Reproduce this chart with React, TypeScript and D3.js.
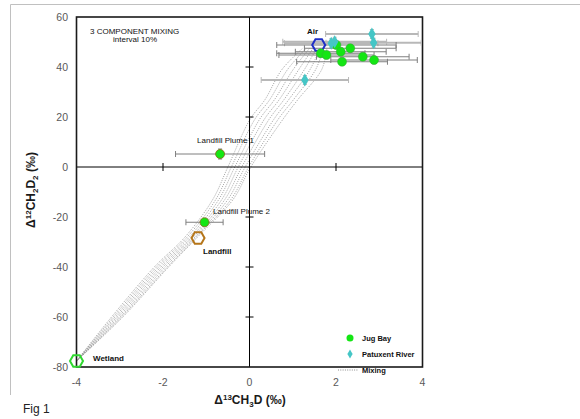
import React from 'react';
import * as d3 from 'd3';

// Jug Bay samples (green circles)
const jugBayX = [2.01, 2.11, 2.33, 1.65, 1.78, 2.14, 2.62, 2.88];
const jugBayY = [48.8, 46.1, 47.5, 45.5, 44.8, 42.1, 44.1, 42.8];
const jugBayXErr = [1.38, 1.05, 1.06, 1.02, 1.1, 1.05, 1.07, 1.0];
const jugBayYErr = [1.5, 1.5, 1.5, 1.5, 1.5, 1.5, 1.5, 1.5];

// Patuxent River samples (cyan diamonds)
const patuxentX = [2.83, 2.87, 1.89, 1.97, 1.28];
const patuxentY = [53.2, 49.7, 49.5, 50.1, 34.8];
const patuxentXErr = [1.07, 1.1, 1.08, 1.2, 1.01];
const patuxentYErr = [1.8, 1.8, 1.8, 1.8, 1.8];

// landfill plumes (green, labelled)
const plumeNames = ['Landfill Plume 1', 'Landfill Plume 2'];
const plumeX = [-0.68, -1.04];
const plumeY = [5.2, -22.1];
const plumeXErr = [1.03, 0.43];
const plumeYErr = [2, 1];

// end members (hexagons)
const endNames = ['Air', 'Landfill', 'Wetland'];
const endX = [1.6, -1.19, -4];
const endY = [48.8, -28.4, -77.6];
const endColors = ['#1f2fc8', '#b5761a', '#2fd82f'];

// mixing curves, x read at these y levels
const mixLevels = [-77.6, -60, -40, -28, -13, 0, 19, 27, 39, 47.5];
const mixCurves = [
  [-4, -3.19, -2.2, -1.49, -0.85, -0.5, 0.01, 0.36, 0.75, 1.23],
  [-4, -3.15, -2.15, -1.44, -0.78, -0.42, 0.12, 0.47, 0.88, 1.31],
  [-4, -3.11, -2.1, -1.39, -0.71, -0.34, 0.23, 0.58, 1.01, 1.39],
  [-4, -3.07, -2.05, -1.34, -0.64, -0.26, 0.34, 0.69, 1.14, 1.47],
  [-4, -3.03, -2.0, -1.3, -0.57, -0.18, 0.45, 0.8, 1.27, 1.55],
  [-4, -2.99, -1.95, -1.26, -0.5, -0.1, 0.56, 0.91, 1.4, 1.63],
  [-4, -2.96, -1.9, -1.23, -0.43, -0.02, 0.66, 1.02, 1.53, 1.71],
  [-4, -2.93, -1.87, -1.2, -0.38, 0.03, 0.77, 1.12, 1.67, 1.79],
];

const xTicks = [-4, -2, 0, 2, 4];
const yTicks = [60, 40, 20, 0, -20, -40, -60, -80];

const legendNames = ['Jug Bay', 'Patuxent River', 'Mixing'];

const font = '"Liberation Sans", Arial, sans-serif';

const hexagon = (cx: number, cy: number, r: number) => {
  const pts = d3.range(6).map((i) => {
    const a = (Math.PI / 3) * i;
    return [cx + r * Math.cos(a), cy + r * Math.sin(a)];
  });
  return 'M' + pts.map((p) => p.join(',')).join('L') + 'Z';
};

const diamond = d3.symbol().type(d3.symbolDiamond).size(48);

export default function App() {
  const x = d3.scaleLinear().domain([-4, 4]).range([76.5, 422.5]);
  const y = d3.scaleLinear().domain([-80, 60]).range([367, 17]);

  const line = d3
    .line<number>()
    .x((d) => x(d))
    .y((_, i) => y(mixLevels[i]))
    .curve(d3.curveCatmullRom);

  const errBar = (cx: number, cy: number, ex: number, ey: number, color: string, w: number, key: string) => {
    const x0 = Math.max(x(cx - ex), x(-4));
    const x1 = Math.min(x(cx + ex), x(4));
    return (
      <g key={key} stroke={color} strokeWidth={w}>
        <line x1={x0} x2={x1} y1={y(cy)} y2={y(cy)} />
        <line x1={x0} x2={x0} y1={y(cy) - 3} y2={y(cy) + 3} strokeWidth={1} />
        <line x1={x1} x2={x1} y1={y(cy) - 3} y2={y(cy) + 3} strokeWidth={1} />
        <line x1={x(cx)} x2={x(cx)} y1={y(cy + ey)} y2={y(cy - ey)} strokeWidth={1} />
        <line x1={x(cx) - 2} x2={x(cx) + 2} y1={y(cy + ey)} y2={y(cy + ey)} strokeWidth={1} />
        <line x1={x(cx) - 2} x2={x(cx) + 2} y1={y(cy - ey)} y2={y(cy - ey)} strokeWidth={1} />
      </g>
    );
  };

  return (
    <svg width={580} height={419} style={{ position: 'absolute', left: 0, top: 0, background: '#fff' }} fontFamily={font}>
      {/* outer frame */}
      <line x1={10.5} x2={580} y1={4.5} y2={4.5} stroke="#c0c0c0" />
      <line x1={10.5} x2={10.5} y1={4.5} y2={395} stroke="#c0c0c0" />

      {/* mixing */}
      <g fill="none" stroke="#8a8a8a" strokeWidth={0.8} strokeDasharray="1 1.3">
        {mixCurves.map((c, i) => (
          <path key={i} d={line(c) as string} />
        ))}
      </g>

      {/* zero axes */}
      <line x1={x(-4)} x2={x(4)} y1={y(0)} y2={y(0)} stroke="#000" strokeWidth={1} />
      <line x1={x(0)} x2={x(0)} y1={y(60)} y2={y(-80)} stroke="#000" strokeWidth={1} />
      {xTicks.filter((t) => t !== 0 && Math.abs(t) !== 4).map((t) => (
        <line key={t} x1={x(t)} x2={x(t)} y1={y(0) - 4} y2={y(0) + 4} stroke="#000" />
      ))}
      {yTicks.filter((t) => t !== 0 && t !== 60 && t !== -80).map((t) => (
        <line key={t} x1={x(0) - 4} x2={x(0) + 4} y1={y(t)} y2={y(t)} stroke="#000" />
      ))}

      {/* plot box */}
      <rect x={x(-4)} y={y(60)} width={x(4) - x(-4)} height={y(-80) - y(60)} fill="none" stroke="#1a1a1a" strokeWidth={1.6} />

      {/* tick labels */}
      <g fill="#595959" fontSize={10.5}>
        {yTicks.map((t) => (
          <text key={t} x={68} y={y(t) + 4} textAnchor="end">{t}</text>
        ))}
        {xTicks.map((t) => (
          <text key={t} x={x(t)} y={386} textAnchor="middle">{t}</text>
        ))}
      </g>

      {/* axis titles */}
      <text x={250} y={404} textAnchor="middle" fontWeight="bold" fontSize={12} fill="#1a1a1a">
        Δ<tspan fontSize={8} dy={-4}>13</tspan><tspan dy={4}>CH</tspan><tspan fontSize={8} dy={3}>3</tspan><tspan dy={-3}>D (‰)</tspan>
      </text>
      <text transform="translate(35,190) rotate(-90)" textAnchor="middle" fontWeight="bold" fontSize={12} fill="#1a1a1a">
        Δ<tspan fontSize={8} dy={-4}>12</tspan><tspan dy={4}>CH</tspan><tspan fontSize={8} dy={3}>2</tspan><tspan dy={-3}>D</tspan><tspan fontSize={8} dy={3}>2</tspan><tspan dy={-3}> (‰)</tspan>
      </text>

      {/* mixing title */}
      <text x={90} y={34} fontSize={8} fill="#111">3 COMPONENT MIXING</text>
      <text x={113} y={42} fontSize={8} fill="#111">interval 10%</text>

      {/* error bars */}
      {patuxentX.map((d, i) => errBar(d, patuxentY[i], patuxentXErr[i], patuxentYErr[i], '#b8b8b8', 1.8, 'p' + i))}
      {jugBayX.map((d, i) => errBar(d, jugBayY[i], jugBayXErr[i], jugBayYErr[i], '#7f7f7f', 1, 'j' + i))}
      {plumeX.map((d, i) => errBar(d, plumeY[i], plumeXErr[i], plumeYErr[i], '#7f7f7f', 1, 'l' + i))}

      {/* end members */}
      {endX.map((d, i) => (
        <path key={i} d={hexagon(x(d), y(endY[i]), 6.5)} fill="none" stroke={endColors[i]} strokeWidth={2} />
      ))}

      {/* points */}
      {jugBayX.map((d, i) => (
        <circle key={i} cx={x(d)} cy={y(jugBayY[i])} r={4.5} fill="#14e614" stroke="#3aa53a" strokeWidth={0.5} />
      ))}
      {plumeX.map((d, i) => (
        <circle key={i} cx={x(d)} cy={y(plumeY[i])} r={4.5} fill="#14e614" stroke="#8a6a1a" strokeWidth={0.8} />
      ))}
      {patuxentX.map((d, i) => (
        <path key={i} d={diamond() as string} transform={`translate(${x(d)},${y(patuxentY[i])})`} fill="#45c6c6" />
      ))}

      {/* labels */}
      <text x={x(plumeX[0]) - 23} y={y(plumeY[0]) - 11} fontSize={8} fill="#111">{plumeNames[0]}</text>
      <text x={213} y={214} fontSize={8} fill="#111">{plumeNames[1]}</text>
      <text x={307} y={34} fontSize={8} fontWeight="bold" fill="#111">{endNames[0]}</text>
      <text x={203} y={254} fontSize={8} fontWeight="bold" fill="#111">{endNames[1]}</text>
      <text x={93} y={361} fontSize={8} fontWeight="bold" fill="#111">{endNames[2]}</text>

      {/* legend */}
      <g fontSize={7.5} fontWeight="bold" fill="#111">
        <circle cx={350} cy={338} r={3.5} fill="#14e614" />
        <text x={362} y={341}>{legendNames[0]}</text>
        <path d={d3.symbol().type(d3.symbolDiamond).size(24)() as string} transform="translate(350,354)" fill="#45c6c6" />
        <text x={362} y={357}>{legendNames[1]}</text>
        <line x1={338} x2={358} y1={370} y2={370} stroke="#8a8a8a" strokeDasharray="1 1.3" />
        <text x={362} y={373}>{legendNames[2]}</text>
      </g>

      <text x={23} y={413} fontSize={12} fill="#222">Fig 1</text>
    </svg>
  );
}
